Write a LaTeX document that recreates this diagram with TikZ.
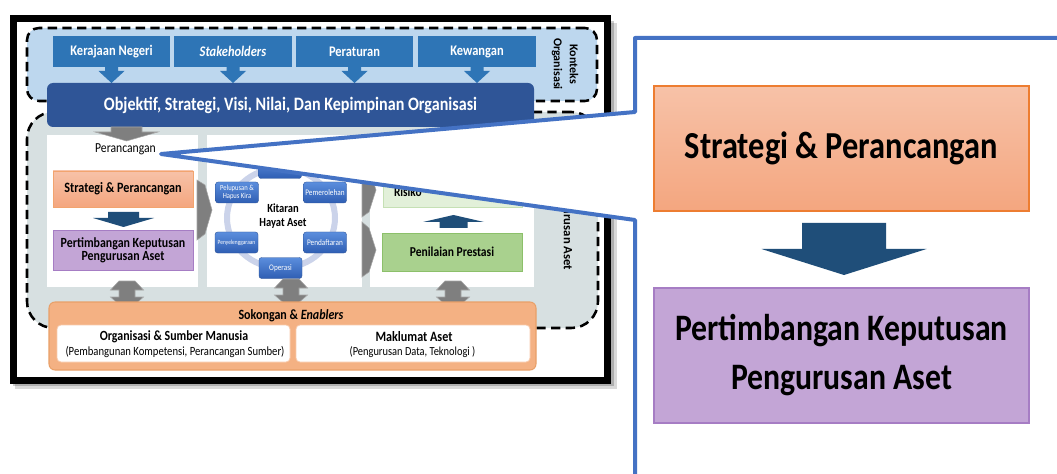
\documentclass[tikz,border=0pt]{standalone}
\usepackage{fontspec}
\setmainfont{Carlito}[FakeStretch=0.85]
\newfontfamily\rotf{Carlito}
\usetikzlibrary{calc}
\newdimen\px \px=0.75pt
\newcommand\fsz[2]{\fontsize{#1}{#2}\selectfont}
\newcommand\arrpoly[6]{\path[#1] ($(#2)+(-#3,0)$) -- ($(#2)+(#3,0)$) -- ($(#2)+(#3,#5)$) -- ($(#2)+(#4,#5)$) -- ($(#2)+(0,#6)$) -- ($(#2)+(-#4,#5)$) -- ($(#2)+(-#3,#5)$) -- cycle;}
\newcommand\dblarrow[1]{\path[dbl] ($(#1)+(-8,0)$) -- ($(#1)+(8,0)$) -- ($(#1)+(16.5,9)$) -- ($(#1)+(8,9)$) -- ($(#1)+(8,16)$) -- ($(#1)+(16.5,16)$) -- ($(#1)+(5,26)$) -- ($(#1)+(-5,26)$) -- ($(#1)+(-16.5,16)$) -- ($(#1)+(-8,16)$) -- ($(#1)+(-8,9)$) -- ($(#1)+(-16.5,9)$) -- cycle;}
\definecolor{kontekscol}{HTML}{BDD7EE}
\definecolor{asetcol}{HTML}{D7E0E1}
\definecolor{topblue}{HTML}{2E75B6}
\definecolor{objblue}{HTML}{2F5597}
\definecolor{grayarr}{HTML}{7F7F7F}
\definecolor{grayedge}{HTML}{A6A6A6}
\definecolor{strtop}{HTML}{F7C2A8}
\definecolor{strbot}{HTML}{F4A67F}
\definecolor{strborder}{HTML}{ED7D31}
\definecolor{purfill}{HTML}{C3A5D6}
\definecolor{purborder}{HTML}{A67DC4}
\definecolor{darkarr}{HTML}{1F4E79}
\definecolor{grlight}{HTML}{E2F0D9}
\definecolor{grlightb}{HTML}{C5E0B4}
\definecolor{grmid}{HTML}{A9D18E}
\definecolor{grmidb}{HTML}{8CC06A}
\definecolor{cyctop}{HTML}{5B8EDD}
\definecolor{cycbot}{HTML}{2F5EB3}
\definecolor{cycborder}{HTML}{2F5597}
\definecolor{ringcol}{HTML}{CBD3EA}
\definecolor{sokfill}{HTML}{F4B183}
\definecolor{sokborder}{HTML}{E9A068}
\definecolor{inborder}{HTML}{F8CBAD}
\definecolor{callblue}{HTML}{4472C4}
\begin{document}
\begin{tikzpicture}[x=0.75pt,y=-0.75pt,
  every node/.style={inner sep=0pt, outer sep=0pt},
  region/.style={draw=black, line width=1.9pt, dash pattern=on 7pt off 4pt},
  panel/.style={fill=white, minimum height=152\px},
  topbox/.style={fill=topblue, text=white, font=\bfseries\fsz{11}{12}, minimum height=31\px},
  orbox/.style={draw=strborder!70, line width=0.6pt, top color=strtop, bottom color=strbot, align=center},
  pubox/.style={draw=purborder, line width=0.6pt, fill=purfill, align=center},
  cyc/.style={draw=cycborder, line width=0.3pt, rounded corners=2pt, top color=cyctop, bottom color=cycbot, text=white, font=\fsz{6.4}{7}, align=center, minimum width=43\px, minimum height=21\px},
  dbl/.style={fill=grayarr, draw=grayedge, line width=0.4pt},
  chev/.style={fill=grayarr, draw=grayedge, line width=0.4pt},
  inbox/.style={fill=white, draw=inborder, line width=0.6pt, rounded corners=3pt, minimum height=37\px},
  callout/.style={draw=callblue, fill=white, line width=3pt, line join=round}
]
\useasboundingbox (0,0) rectangle (1057,474);
\clip (0,0) rectangle (1057,474);
% frame with shadow
\fill[black, opacity=0.15] (15,23) rectangle (617,389);
\fill[black, opacity=0.2] (13,21) rectangle (614,386);
\node[draw=black, line width=5.25pt, fill=white, minimum width=594\px, minimum height=361\px] (frame) at (310,199.5) {};
% regions
\node[region, fill=kontekscol, rounded corners=9pt, minimum width=570\px, minimum height=73\px] (konteks) at (312,64.5) {};
\node[region, fill=asetcol, rounded corners=20pt, minimum width=571\px, minimum height=216\px] (aset) at (312.5,220) {};
\node[rotate=-90, font=\rotf\bfseries\fsz{9}{12}, align=center] (konteksLbl) at (565,64) {Konteks\\Organisasi};
\node[rotate=-90, font=\rotf\bfseries\fsz{9.5}{10}] (asetLbl) at (567,226) {Pengurusan Aset};
% panels
\node[panel, minimum width=151\px] (pL) at (122.5,211) {};
\node[panel, minimum width=155\px] (pM) at (284.5,211) {};
\node[panel, minimum width=164\px] (pR) at (452,211) {};
% top boxes
\node[topbox, minimum width=117\px] (kn) at (111.5,51.5) {Kerajaan Negeri};
\node[topbox, minimum width=118\px] (sh) at (233,51.5) {\textit{Stakeholders}};
\node[topbox, minimum width=117\px] (pr) at (354.5,51.5) {Peraturan};
\node[topbox, minimum width=118\px] (kw) at (477,51.5) {Kewangan};
\arrpoly{fill=topblue}{kn.south}{6.5}{13}{4}{16}
\arrpoly{fill=topblue}{sh.south}{6.5}{13}{4}{16}
\arrpoly{fill=topblue}{pr.south}{6.5}{13}{4}{16}
\arrpoly{fill=topblue}{kw.south}{6.5}{13}{4}{16}
% objektif
\node[fill=objblue, rounded corners=4.5pt, text=white, font=\bfseries\fsz{14.2}{16}, minimum width=487\px, minimum height=44\px] (obj) at (290.5,105) {Objektif, Strategi, Visi, Nilai, Dan Kepimpinan Organisasi};
\coordinate (objS) at (126.5,127);
\arrpoly{fill=grayarr, draw=grayedge, line width=0.4pt}{objS}{15.5}{31.5}{5}{14}
% left panel
\node[font=\fsz{10.3}{12}] (perLbl) at (125.5,149.5) {Perancangan};
\node[orbox, minimum width=140\px, minimum height=36\px, font=\bfseries\fsz{10.7}{12}] (str) at (123,189) {Strategi \& Perancangan};
\coordinate (da1) at (123.5,212);
\arrpoly{fill=darkarr}{da1}{15.5}{30.5}{6}{15}
\node[pubox, minimum width=140\px, minimum height=40\px, font=\bfseries\fsz{10.5}{9.9}] (ptb) at (123,250) {Pertimbangan Keputusan\\Pengurusan Aset};
% middle panel
\draw[ringcol, line width=4.5pt] (281,218) ellipse [x radius=54, y radius=50];
\node[cyc] (cTop) at (280,168) {};
\node[cyc] (cPem) at (325,192.5) {Pemerolehan};
\node[cyc, font=\fsz{5.8}{6.5}] (cPel) at (237,192.5) {Pelupusan \&\\Hapus Kira};
\node[cyc, font=\fsz{4.8}{5}] (cPen) at (236.5,242.5) {Penyelenggaraan};
\node[cyc] (cPd) at (325,242.5) {Pendaftaran};
\node[cyc] (cOp) at (280.5,268) {Operasi};
\node[font=\bfseries\fsz{9.3}{10}, align=center] (kit) at (283,216) {Kitaran\\Hayat Aset};
% chevrons
\path[chev] (197,180) -- (205,185) -- (212,210) -- (205,234) -- (197,240) -- cycle;
\path[chev] (362,162) -- (369,168) -- (376,190) -- (369,212) -- (362,217) -- cycle;
\path[chev] (362,222) -- (369,228) -- (376,250) -- (369,272) -- (362,277) -- cycle;
% right panel
\node[draw=grlightb, line width=0.6pt, fill=grlight, minimum width=139\px, minimum height=36\px] (ris) at (452.5,189) {};
\node[font=\bfseries\fsz{10}{12}, anchor=west] (risLbl) at (394,192) {Risiko};
\coordinate (ua) at (453.5,228);
\arrpoly{fill=darkarr}{ua}{14}{30.5}{-6}{-13}
\node[draw=grmidb, line width=0.6pt, fill=grmid, minimum width=140\px, minimum height=38\px, font=\bfseries\fsz{10.2}{12}] (pen) at (452,252) {Penilaian Prestasi};
% double arrows
\coordinate (d1) at (127,281);
\coordinate (d2) at (291,279);
\coordinate (d3) at (453,281);
\dblarrow{d1}
\dblarrow{d2}
\dblarrow{d3}
% sokongan
\node[fill=sokfill, draw=sokborder, line width=0.8pt, rounded corners=4.5pt, minimum width=487\px, minimum height=68\px] (sok) at (292.5,336) {};
\node[font=\bfseries\fsz{10.6}{12}] (sokLbl) at (291,316) {Sokongan \& \textit{Enablers}};
\node[inbox, minimum width=233\px] (org) at (173.5,343.5) {};
\node[font=\bfseries\fsz{10.5}{12}] (orgT) at (174,337) {Organisasi \& Sumber Manusia};
\node[font=\fsz{9.4}{11}] (orgS) at (175,352) {(Pembangunan Kompetensi, Perancangan Sumber)};
\node[inbox, minimum width=234\px] (mak) at (413,343.5) {};
\node[font=\bfseries\fsz{10.7}{12}] (makT) at (414,337) {Maklumat Aset};
\node[font=\fsz{9.2}{11}] (makS) at (412.5,352) {(Pengurusan Data, Teknologi )};
% callout
\coordinate (tip) at (161,154);
\draw[callout] (tip) -- (635,112) -- (635,38) -- (1080,38) -- (1080,500) -- (635,500) -- (635,220) -- cycle;
\node[orbox, draw=strborder, line width=1pt, minimum width=375\px, minimum height=125\px, font=\bfseries\fsz{28.6}{34}] (bstr) at (841.5,148.5) {Strategi \& Perancangan};
\coordinate (bda) at (844,223);
\arrpoly{fill=darkarr}{bda}{42}{82.5}{26}{52}
\node[pubox, line width=1pt, minimum width=375\px, minimum height=135\px, font=\bfseries\fsz{28}{36.75}] (bptb) at (841.5,355.5) {Pertimbangan Keputusan\\Pengurusan Aset};
\end{tikzpicture}
\end{document}
